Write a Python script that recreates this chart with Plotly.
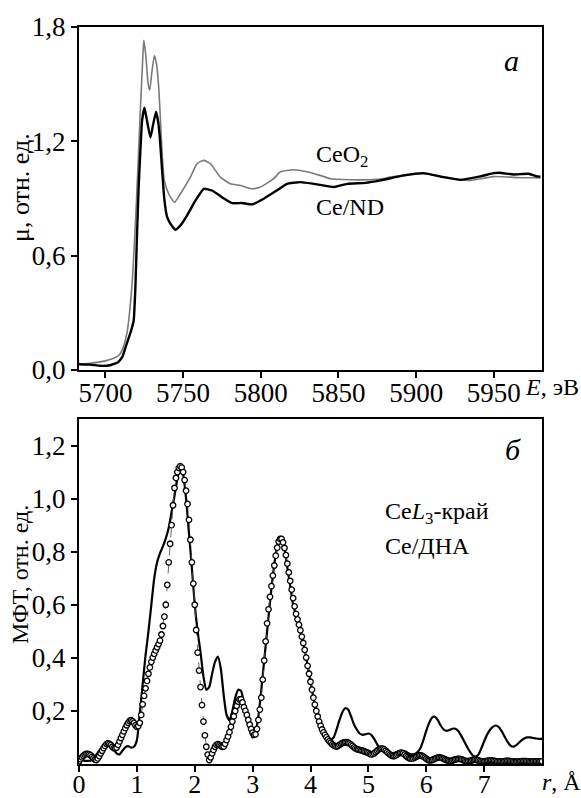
import numpy as np
import plotly.graph_objects as go

# ---------------- Panel a: XANES ----------------
E_ceo2 = [5683, 5690, 5700, 5705, 5709, 5711.5, 5714, 5715, 5717.5, 5720, 5722.3, 5724, 5724.7,
          5726, 5727.5, 5728.5, 5730, 5731.5, 5733, 5734.3, 5735.5, 5736.5, 5737.9, 5740.7,
          5744.4, 5748.3, 5754.7, 5759, 5763.3, 5767.6, 5774, 5780.4, 5786.9, 5794.4, 5799.7,
          5808.3, 5812.6, 5821.2, 5829.8, 5838.6, 5844.8, 5852, 5866.2, 5877, 5883.4, 5896.2,
          5904.8, 5915.3, 5928.4, 5934.5, 5944.1, 5949.9, 5960, 5968.1, 5975.6, 5980]
mu_ceo2 = [0.030, 0.035, 0.048, 0.060, 0.080, 0.120, 0.200, 0.260, 0.490, 0.890, 1.330, 1.630, 1.730,
           1.650, 1.500, 1.468, 1.570, 1.650, 1.600, 1.485, 1.300, 1.135, 0.995, 0.925,
           0.880, 0.925, 1.012, 1.083, 1.100, 1.083, 1.012, 0.977, 0.968, 0.951, 0.960,
           1.004, 1.040, 1.051, 1.040, 1.020, 1.004, 1.000, 0.998, 1.002, 1.012, 1.024,
           1.030, 1.018, 0.998, 0.995, 1.007, 1.015, 1.012, 1.009, 1.009, 1.008]

E_cend = [5683, 5690, 5697, 5703, 5708, 5711, 5713, 5715.5, 5717, 5718.2, 5719.3, 5720.3, 5721.4,
          5722.5, 5723.6, 5725.1, 5726.5, 5729, 5730.5, 5732.6, 5734, 5735, 5736.5, 5738,
          5739.7, 5741.8, 5745, 5748.3, 5752.6, 5758, 5763.3, 5768.7, 5775, 5781.5, 5788,
          5794.4, 5801.9, 5810.5, 5816.9, 5825.5, 5834.1, 5847, 5855.6, 5867.4, 5877, 5892,
          5904.8, 5917.7, 5928.4, 5941.3, 5949.9, 5953.7, 5962.7, 5972.4, 5977.8, 5980]
mu_cend = [0.030, 0.028, 0.022, 0.025, 0.040, 0.070, 0.120, 0.180, 0.220, 0.260, 0.435, 0.700, 0.960,
           1.150, 1.310, 1.377, 1.320, 1.220, 1.280, 1.355, 1.300, 1.222, 1.047, 0.890,
           0.803, 0.768, 0.736, 0.759, 0.812, 0.890, 0.951, 0.942, 0.907, 0.876, 0.876,
           0.869, 0.899, 0.943, 0.977, 0.986, 0.977, 0.960, 0.977, 0.982, 0.995, 1.021,
           1.033, 1.012, 0.998, 1.016, 1.033, 1.035, 1.026, 1.030, 1.016, 1.015]

E_ticks = [5700, 5750, 5800, 5850, 5900, 5950]
mu_ticks = [0.0, 0.6, 1.2, 1.8]
mu_ticktext = ["0,0", "0,6", "1,2", "1,8"]

# ---------------- Panel b: Fourier transform ----------------
r_exp = np.round(np.arange(161) * 0.05, 3)
ft_exp = [
    0.020, 0.015, 0.012, 0.012, 0.012, 0.020, 0.035, 0.050, 0.065, 0.078,
    0.084, 0.075, 0.055, 0.040, 0.036, 0.050, 0.063, 0.067, 0.062, 0.065,
    0.090, 0.190, 0.300, 0.410, 0.500, 0.600, 0.700, 0.760, 0.795, 0.820,
    0.850, 0.890, 0.950, 1.010, 1.075, 1.120, 1.090, 1.000, 0.870, 0.740,
    0.600, 0.500, 0.420, 0.330, 0.280, 0.290, 0.340, 0.385, 0.405, 0.360,
    0.260, 0.185, 0.165, 0.200, 0.250, 0.280, 0.275, 0.230, 0.170, 0.125,
    0.100, 0.120, 0.180, 0.280, 0.390, 0.500, 0.610, 0.710, 0.790, 0.840,
    0.850, 0.815, 0.740, 0.670, 0.600, 0.560, 0.525, 0.480, 0.430, 0.370,
    0.310, 0.250, 0.200, 0.160, 0.130, 0.110, 0.100, 0.093, 0.100, 0.130,
    0.165, 0.195, 0.210, 0.205, 0.180, 0.150, 0.130, 0.115, 0.110, 0.112,
    0.115, 0.110, 0.095, 0.075, 0.058, 0.048, 0.042, 0.040, 0.040, 0.042,
    0.045, 0.050, 0.050, 0.046, 0.040, 0.036, 0.038, 0.045, 0.060, 0.090,
    0.125, 0.155, 0.175, 0.178, 0.165, 0.145, 0.130, 0.125, 0.128, 0.133,
    0.133, 0.125, 0.108, 0.088, 0.067, 0.048, 0.033, 0.028, 0.035, 0.058,
    0.085, 0.110, 0.128, 0.140, 0.145, 0.140, 0.125, 0.105, 0.085, 0.070,
    0.065, 0.070, 0.080, 0.090, 0.097, 0.100, 0.100, 0.098, 0.096, 0.095,
    0.095]

r_fit = np.round(np.arange(321) * 0.025, 3)
ft_fit = [
    0.010, 0.018, 0.025, 0.031, 0.035, 0.038, 0.038, 0.036,
    0.033, 0.027, 0.022, 0.017, 0.015, 0.021, 0.030, 0.040,
    0.050, 0.060, 0.068, 0.075, 0.078, 0.076, 0.072, 0.065,
    0.060, 0.059, 0.062, 0.072, 0.085, 0.098, 0.110, 0.123,
    0.135, 0.146, 0.155, 0.162, 0.165, 0.161, 0.155, 0.146,
    0.140, 0.143, 0.155, 0.185, 0.225, 0.257, 0.285, 0.313,
    0.340, 0.364, 0.385, 0.401, 0.415, 0.428, 0.440, 0.452,
    0.465, 0.488, 0.520, 0.555, 0.600, 0.675, 0.760, 0.830,
    0.900, 0.975, 1.040, 1.078, 1.100, 1.116, 1.122, 1.117,
    1.100, 1.070, 1.030, 0.980, 0.920, 0.845, 0.760, 0.680,
    0.600, 0.505, 0.420, 0.352, 0.290, 0.222, 0.160, 0.108,
    0.065, 0.035, 0.015, 0.025, 0.040, 0.053, 0.065, 0.072,
    0.075, 0.072, 0.068, 0.065, 0.066, 0.076, 0.090, 0.104,
    0.120, 0.140, 0.160, 0.180, 0.200, 0.219, 0.235, 0.243,
    0.244, 0.232, 0.214, 0.200, 0.185, 0.166, 0.148, 0.132,
    0.118, 0.110, 0.112, 0.132, 0.166, 0.205, 0.250, 0.318,
    0.390, 0.462, 0.530, 0.583, 0.630, 0.670, 0.710, 0.748,
    0.785, 0.815, 0.838, 0.848, 0.848, 0.835, 0.814, 0.787,
    0.755, 0.722, 0.690, 0.657, 0.625, 0.594, 0.566, 0.545,
    0.525, 0.504, 0.480, 0.456, 0.430, 0.401, 0.370, 0.340,
    0.310, 0.280, 0.250, 0.224, 0.200, 0.179, 0.160, 0.144,
    0.130, 0.119, 0.110, 0.101, 0.093, 0.086, 0.080, 0.074,
    0.070, 0.067, 0.066, 0.068, 0.072, 0.076, 0.079, 0.081,
    0.082, 0.082, 0.080, 0.077, 0.073, 0.068, 0.063, 0.059,
    0.056, 0.054, 0.053, 0.051, 0.050, 0.048, 0.046, 0.044,
    0.042, 0.038, 0.036, 0.037, 0.040, 0.045, 0.050, 0.054,
    0.057, 0.058, 0.058, 0.055, 0.050, 0.045, 0.040, 0.035,
    0.032, 0.030, 0.030, 0.033, 0.036, 0.040, 0.042, 0.042,
    0.040, 0.035, 0.030, 0.026, 0.022, 0.020, 0.020, 0.021,
    0.024, 0.027, 0.030, 0.032, 0.032, 0.031, 0.028, 0.024,
    0.020, 0.016, 0.014, 0.014, 0.015, 0.017, 0.020, 0.022,
    0.024, 0.025, 0.024, 0.022, 0.020, 0.017, 0.015, 0.013,
    0.012, 0.012, 0.013, 0.015, 0.017, 0.018, 0.019, 0.019,
    0.018, 0.016, 0.014, 0.012, 0.011, 0.011, 0.012, 0.013,
    0.015, 0.016, 0.016, 0.015, 0.014, 0.012, 0.011, 0.010,
    0.010, 0.011, 0.012, 0.013, 0.014, 0.014, 0.013, 0.012,
    0.011, 0.010, 0.010, 0.010, 0.010, 0.010, 0.011, 0.012,
    0.012, 0.012, 0.011, 0.010, 0.010, 0.009, 0.009, 0.009,
    0.010, 0.010, 0.011, 0.011, 0.011, 0.011, 0.010, 0.010,
    0.009, 0.009, 0.010, 0.010, 0.010, 0.010, 0.010, 0.010,
    0.010]

r_ticks = [0, 1, 2, 3, 4, 5, 6, 7]
ft_ticks = [0.2, 0.4, 0.6, 0.8, 1.0, 1.2]
ft_ticktext = ["0,2", "0,4", "0,6", "0,8", "1,0", "1,2"]

# ---------------- Figure ----------------
W, H = 581, 798
ML, MR, MT, MB = 79, 39, 27, 34
PW, PH = W - ML - MR, H - MT - MB


def pxx(px):
    return (px - ML) / PW


def pxy(py):
    return (H - MB - py) / PH


FONT = "Liberation Serif, Times New Roman, serif"

fig = go.Figure()
fig.add_trace(go.Scatter(x=E_ceo2, y=mu_ceo2, mode="lines",
                         line=dict(color="#7a7a7a", width=1.6, shape="spline", smoothing=0.5),
                         xaxis="x", yaxis="y", showlegend=False))
fig.add_trace(go.Scatter(x=E_cend, y=mu_cend, mode="lines",
                         line=dict(color="black", width=2.4, shape="spline", smoothing=0.4),
                         xaxis="x", yaxis="y", showlegend=False))
fig.add_trace(go.Scatter(x=r_exp, y=ft_exp, mode="lines",
                         line=dict(color="black", width=2.2, shape="spline", smoothing=0.6),
                         xaxis="x2", yaxis="y2", showlegend=False))
fig.add_trace(go.Scatter(x=r_fit, y=ft_fit, mode="lines+markers",
                         line=dict(color="#555555", width=0.9, dash="dash"),
                         marker=dict(symbol="circle", size=5.5, color="white",
                                     line=dict(color="black", width=1.3)),
                         xaxis="x2", yaxis="y2", showlegend=False))

axis_common = dict(showline=True, linecolor="black", linewidth=2, mirror=True,
                   ticks="outside", ticklen=6, tickwidth=1.5, tickcolor="black",
                   showgrid=False, zeroline=False, automargin=False)
tf27 = dict(family=FONT, size=27, color="black")
tf26 = dict(family=FONT, size=26, color="black")

top_bottom = pxy(370)
bot_top = pxy(419)

fig.update_layout(
    width=W, height=H,
    margin=dict(l=ML, r=MR, t=MT, b=MB, autoexpand=False),
    font=dict(family=FONT, color="black"),
    paper_bgcolor="white", plot_bgcolor="white",
    xaxis=dict(domain=[0, 1], anchor="y", range=[5683, 5981], ticklabelstandoff=-8,
               tickvals=E_ticks, ticktext=[str(v) for v in E_ticks], tickfont=tf27, **axis_common),
    yaxis=dict(domain=[top_bottom, 1], anchor="x", range=[0, 1.8],
               tickvals=mu_ticks, ticktext=mu_ticktext, tickfont=tf27, **axis_common),
    xaxis2=dict(domain=[0, 1], anchor="y2", range=[0, 8], ticklabelstandoff=-10,
                tickvals=r_ticks, ticktext=[str(v) for v in r_ticks], tickfont=tf26, **axis_common),
    yaxis2=dict(domain=[0, bot_top], anchor="x2", range=[0, 1.3],
                tickvals=ft_ticks, ticktext=ft_ticktext, tickfont=tf27, **axis_common),
)


def note(text, px, py, size=24, xanchor="left", angle=0):
    fig.add_annotation(text=text, x=pxx(px), y=pxy(py), xref="paper", yref="paper",
                       xanchor=xanchor, yanchor="middle", showarrow=False, textangle=angle,
                       font=dict(family=FONT, size=size, color="black"))


note("<i>E</i>, эВ", 523, 387, size=24)
note("<i>r</i>, Å", 540, 782, size=24)
note("μ, отн. ед.", 20, 188, size=26, xanchor="center", angle=-90)
note("МФТ, отн. ед.", 20, 575, size=24, xanchor="center", angle=-90)
note("<i>а</i>", 511, 60, size=30, xanchor="center")
note("<i>б</i>", 513, 450, size=30, xanchor="center")
note("CeO<sub>2</sub>", 314, 156, size=24)
note("Ce/ND", 314, 207, size=24)
note("Ce<i>L</i><sub>3</sub>-край", 383, 513, size=24)
note("Ce/ДНА", 383, 546, size=24)

fig.write_html("out.html", config={"displayModeBar": False},
               post_script="document.body.style.margin='0px';")
